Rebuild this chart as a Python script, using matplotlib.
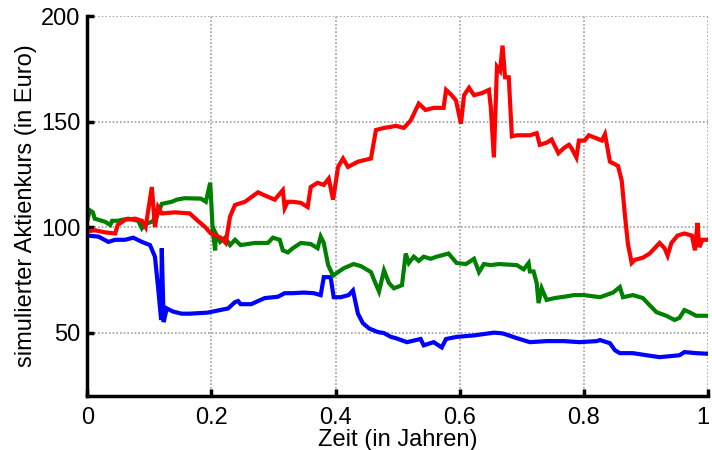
import matplotlib
matplotlib.use("Agg")
import matplotlib.pyplot as plt
import matplotlib.transforms as mtransforms

# ---- data (time in years, simulated price in Euro) ----
red_t = [0, 0.012, 0.029, 0.045, 0.049, 0.061, 0.077, 0.088, 0.094, 0.104, 0.109, 0.114, 0.120,
         0.141, 0.165, 0.178, 0.190, 0.199, 0.215, 0.223, 0.230, 0.238, 0.254, 0.275, 0.286,
         0.302, 0.315, 0.318, 0.323, 0.331, 0.344, 0.355, 0.360, 0.371, 0.381, 0.389, 0.396,
         0.404, 0.412, 0.420, 0.436, 0.457, 0.465, 0.478, 0.489, 0.497, 0.510, 0.521, 0.534,
         0.545, 0.558, 0.574, 0.578, 0.587, 0.594, 0.602, 0.607, 0.615, 0.623, 0.636, 0.647,
         0.650, 0.655, 0.660, 0.665, 0.669, 0.673, 0.679, 0.684, 0.692, 0.713, 0.724, 0.729,
         0.740, 0.748, 0.759, 0.768, 0.776, 0.780, 0.788, 0.792, 0.801, 0.808, 0.821, 0.829,
         0.834, 0.842, 0.855, 0.861, 0.866, 0.871, 0.877, 0.882, 0.895, 0.906, 0.914, 0.922,
         0.930, 0.935, 0.941, 0.951, 0.962, 0.974, 0.979, 0.983, 0.986, 0.991, 1.0]
red_v = [98, 98.5, 97.5, 97, 101, 103.5, 104, 103, 100, 119, 100, 109.5, 106.5,
         107, 106.5, 103, 100, 97, 95, 92.5, 105, 110.5, 112, 116.5, 115,
         113, 117.5, 109, 112, 112, 111.5, 109.5, 119, 121, 120, 123, 113,
         128.5, 132.5, 128.5, 131, 132.5, 146, 147, 147.5, 148, 147, 150.5, 158.5,
         155.5, 156.5, 156.5, 165, 162.5, 160, 149, 162.5, 166, 162.5, 163.5, 165,
         157, 133, 176, 174, 186, 171, 171, 143, 143.5, 143.5, 144.5, 139,
         140, 141.5, 135, 137.5, 139, 137.5, 133, 141, 141, 143.5, 142, 141,
         144, 131, 129, 122, 106, 92, 83, 84.5, 85.5, 87.5, 90, 92.5,
         90, 86.5, 92.5, 96, 97, 96, 89, 102, 90.5, 94, 94]

green_t = [0, 0.004, 0.009, 0.012, 0.029, 0.037, 0.040, 0.049, 0.066, 0.082, 0.088, 0.093,
           0.104, 0.112, 0.120, 0.136, 0.144, 0.157, 0.183, 0.191, 0.198, 0.199, 0.202, 0.206,
           0.207, 0.214, 0.222, 0.230, 0.238, 0.247, 0.270, 0.291, 0.299, 0.310, 0.315, 0.323,
           0.331, 0.344, 0.360, 0.371, 0.376, 0.381, 0.388, 0.396, 0.404, 0.413, 0.429, 0.441,
           0.457, 0.462, 0.470, 0.478, 0.486, 0.494, 0.507, 0.513, 0.518, 0.526, 0.534, 0.542,
           0.553, 0.563, 0.582, 0.595, 0.610, 0.623, 0.631, 0.639, 0.650, 0.663, 0.692, 0.703,
           0.711, 0.713, 0.719, 0.724, 0.727, 0.732, 0.740, 0.753, 0.768, 0.784, 0.800, 0.821,
           0.826, 0.847, 0.858, 0.863, 0.879, 0.895, 0.906, 0.917, 0.933, 0.946, 0.954, 0.962,
           0.970, 0.981, 1.0]
green_v = [103, 108, 107, 104, 102.5, 101, 103, 103, 104, 103, 99.5, 101.5,
           102.5, 105, 111, 112, 113, 113.7, 113.5, 112, 121, 116, 98.5, 89,
           97, 93, 95, 91.5, 94, 91.5, 92.5, 92.5, 95, 94, 89, 88,
           90, 92.5, 92, 90, 95.5, 92.5, 82, 77, 78.7, 80.5, 82.5, 81.5,
           78.7, 75, 69.5, 79.5, 73.5, 71, 72.5, 87.5, 83, 86, 84, 86,
           85, 86, 87.5, 83, 82.5, 85, 78.7, 82.5, 82, 82.5, 82, 80,
           83, 79, 79, 73.5, 64, 71, 65.5, 66.4, 67, 67.8, 67.8, 67,
           66.8, 69, 71.6, 66.8, 67.8, 66.4, 63, 59.7, 58, 56, 57, 60.7,
           59.7, 58, 58]

blue_t = [0, 0.018, 0.034, 0.045, 0.061, 0.074, 0.088, 0.101, 0.109, 0.114, 0.119, 0.120,
          0.123, 0.128, 0.138, 0.152, 0.165, 0.194, 0.227, 0.238, 0.243, 0.247, 0.264, 0.286,
          0.307, 0.318, 0.331, 0.349, 0.365, 0.376, 0.381, 0.392, 0.397, 0.408, 0.421, 0.428,
          0.436, 0.444, 0.454, 0.468, 0.478, 0.489, 0.497, 0.515, 0.537, 0.542, 0.558, 0.571,
          0.578, 0.595, 0.623, 0.655, 0.665, 0.671, 0.692, 0.713, 0.740, 0.768, 0.793, 0.821,
          0.826, 0.842, 0.850, 0.858, 0.879, 0.901, 0.922, 0.954, 0.962, 0.981, 1.0]
blue_v = [96, 95.5, 93, 94, 94, 95, 93, 91.5, 86, 71.5, 56, 90,
          55, 61.5, 60, 59, 59, 59.5, 61.5, 64.5, 65, 63.5, 63.5, 66.4,
          67, 68.7, 68.7, 69, 68.7, 67.8, 76.3, 76.3, 66.8, 66.8, 67.8, 70,
          59, 54.5, 52, 50.3, 49.8, 48, 47.4, 45.5, 47, 44, 45.5, 43,
          47, 48, 48.7, 50, 49.8, 49.5, 47.4, 45.5, 46, 46, 45.5, 46,
          46.5, 45, 41.7, 40.3, 40.3, 39.3, 38.4, 39.3, 40.8, 40.3, 40]

x_ticks = [0, 0.2, 0.4, 0.6, 0.8, 1]
x_ticklabels = ["0", "0.2", "0.4", "0.6", "0.8", "1"]
y_ticks = [50, 100, 150, 200]

plt.rcParams['font.family'] = ['Liberation Sans', 'DejaVu Sans']

fig = plt.figure(figsize=(7.12, 4.5), dpi=100)
ax = fig.add_axes([0.1226, 0.12, 0.8718, 0.8444])

lw = 3.0
ax.plot(blue_t, blue_v, color=(0, 0, 1), lw=lw, solid_joinstyle='miter')
ax.plot(green_t, green_v, color=(0, 0.5, 0), lw=lw, solid_joinstyle='miter')
ax.plot(red_t, red_v, color=(1, 0, 0), lw=lw, solid_joinstyle='miter')

ax.set_xlim(0, 1)
ax.set_ylim(20, 200)
ax.set_xticks(x_ticks)
ax.set_xticklabels(x_ticklabels)
ax.set_yticks(y_ticks)

ax.grid(True, linestyle=(0, (1, 1.2)), color='#a0a0a0', linewidth=1.2)
ax.set_axisbelow(True)

for s in ['top', 'right']:
    ax.spines[s].set_visible(False)
for s in ['left', 'bottom']:
    ax.spines[s].set_linewidth(2.5)
    ax.spines[s].set_color('black')

ax.tick_params(direction='in', length=5, width=2.5, labelsize=17, colors='black')
ax.tick_params(axis='x', pad=8)
ax.tick_params(axis='y', pad=5)

# keep the last x tick label ("1") inside the figure
last = ax.get_xticklabels()[-1]
last.set_transform(last.get_transform() +
                   mtransforms.ScaledTranslation(-4 / 72, 0, fig.dpi_scale_trans))

ax.set_xlabel("Zeit (in Jahren)", fontsize=17, labelpad=0)
ax.set_ylabel("simulierter Aktienkurs (in Euro)", fontsize=17, labelpad=3)

fig.savefig("out.png", dpi=100)
